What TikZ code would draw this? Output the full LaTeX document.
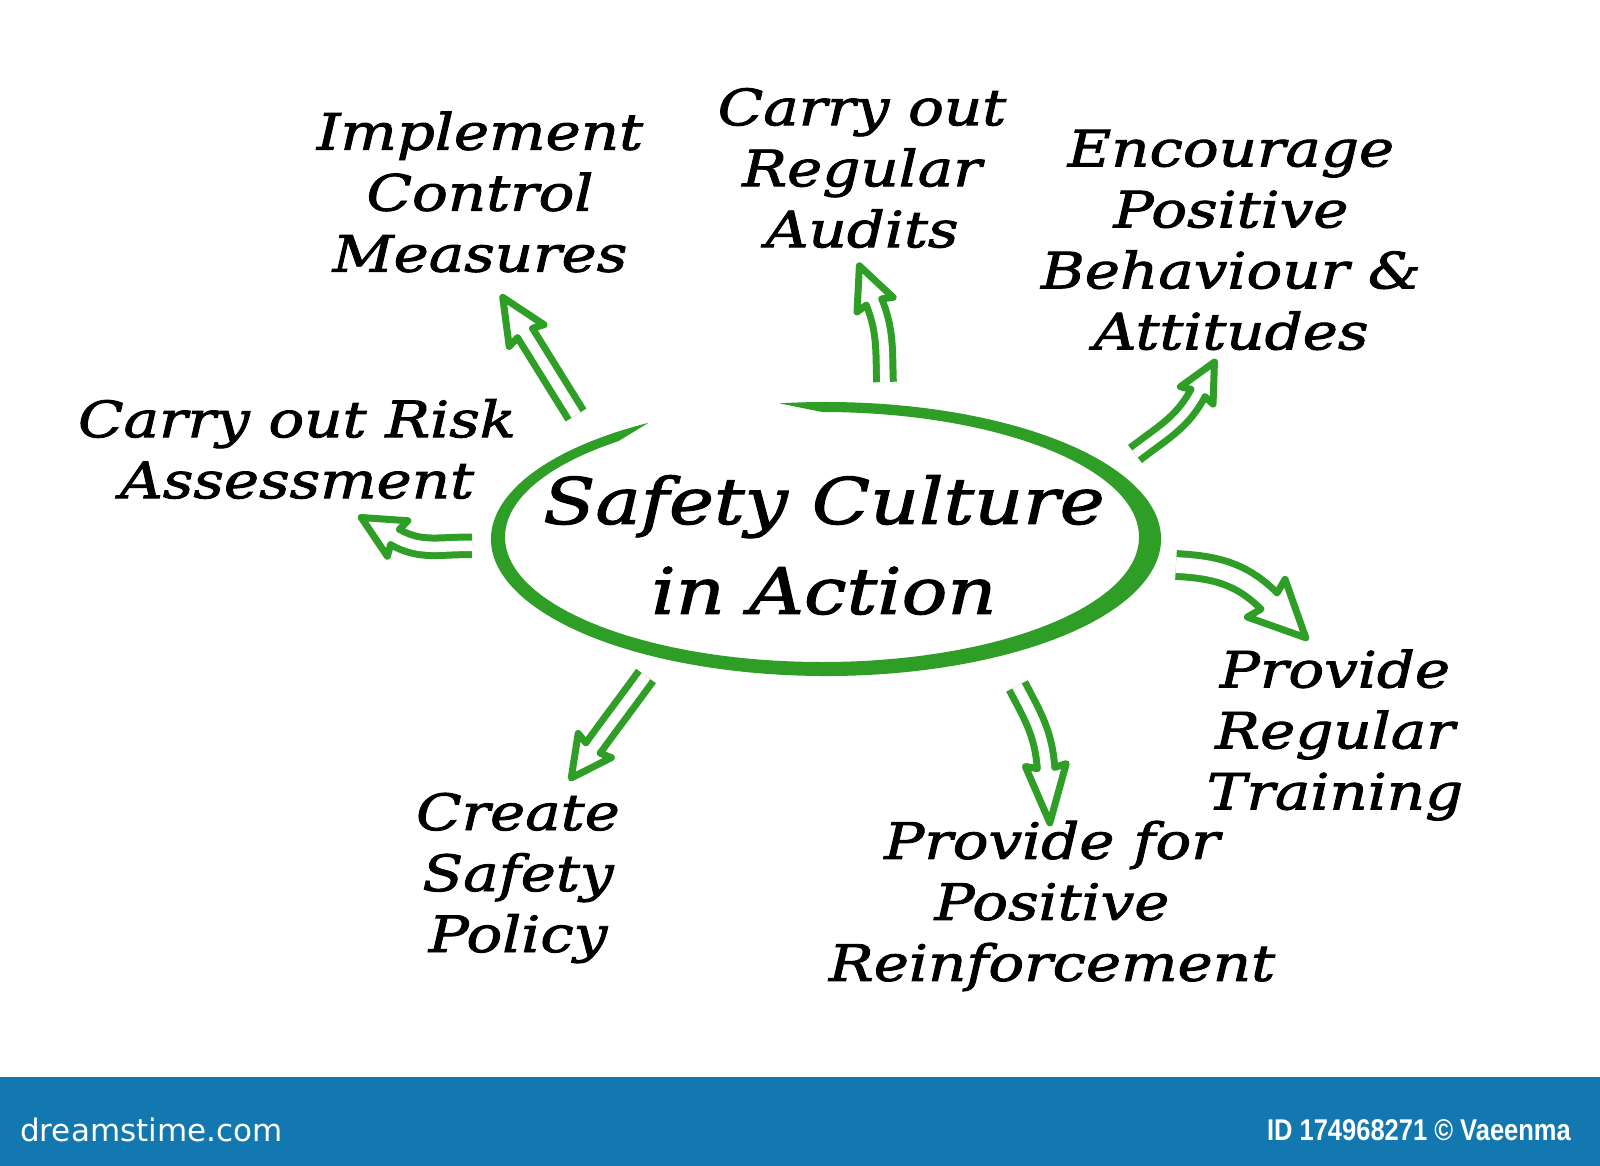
\documentclass[tikz,border=0pt]{standalone}
\usepackage{fontspec}
\newfontfamily\hand[FakeStretch=1.19, FakeBold=1.8]{DejaVu Serif}
\newfontfamily\barfont[FakeStretch=0.85]{Liberation Sans}
\newfontfamily\brandfont{DejaVu Sans}
\usetikzlibrary{calc}
\definecolor{gr}{RGB}{46,158,38}
\definecolor{barblue}{RGB}{19,119,176}
% hollow arrow: #1 tail coord, #2 out angle, #3 end coord, #4 direction at end, #5 scale, #6 tip length
\newcommand\harrow[6]{%
  \pgfmathsetmacro\hin{#4+180}%
  \pgfmathsetmacro\hdd{17.5*#5-7}%
  \draw[gline, double=white, double distance=\hdd pt] (#1) to[out=#2,in=\hin] (#3);
  \begin{scope}[shift={(#3)}, rotate=#4]
    \draw[gline, fill=white, line join=round, line cap=round]
      (0,8.75*#5) -- (-3*#5,20.5*#5) -- (#6,0) -- (-3*#5,-20.5*#5) -- (0,-8.75*#5);
  \end{scope}}
\begin{document}
\begin{tikzpicture}[x=1pt,y=1pt,
  gline/.style={draw=gr,line width=7pt},
  lbl/.style={font=\hand\itshape\fontsize{50}{61}\selectfont, align=center, text=black, inner sep=0pt}]
\useasboundingbox (0,0) rectangle (1600,-1166);
\fill[white] (0,0) rectangle (1600,-1166);

% central ellipse (hand-drawn ring with tapered ends)
\fill[gr] ($(826,-539)+(122:335 and 137)$)
  arc[start angle=122,end angle=458,x radius=335,y radius=137]
  -- ($(822,-537)+(450:317 and 125)$)
  arc[start angle=450,end angle=130,x radius=317,y radius=125] -- cycle;

\node[lbl, font=\hand\itshape\fontsize{64}{90}\selectfont] (center) at (824,-545) {Safety Culture\\in Action};

% labels
\node[lbl] (imp)   at (480,-192) {Implement\\Control\\Measures};
\node[lbl] (aud)   at (862,-168) {Carry out\\Regular\\Audits};
\node[lbl] (enc)   at (1231,-240) {Encourage\\Positive\\Behaviour \&\\Attitudes};
\node[lbl] (risk)  at (297,-449) {Carry out Risk\\Assessment};
\node[lbl] (pol)   at (518,-878) {Create\\Safety\\Policy};
\node[lbl] (rein)  at (1052,-906) {Provide for\\Positive\\Reinforcement};
\node[lbl] (train) at (1335,-735) {Provide\\Regular\\Training};

% arrow coordinates
\coordinate (t1) at (576,-415);  \coordinate (e1) at (525,-333);
\coordinate (t2) at (885,-382);  \coordinate (e2) at (874,-302);
\coordinate (t3) at (1135,-454); \coordinate (e3) at (1198,-393);
\coordinate (t4) at (472,-546);  \coordinate (e4) at (395,-537);
\coordinate (t5) at (1176,-565); \coordinate (e5) at (1269,-601);
\coordinate (t6) at (646,-676);  \coordinate (e6) at (593,-748);
\coordinate (t7) at (1017,-686); \coordinate (e7) at (1046,-768);

\harrow{t1}{122}{e1}{122}{1}{42}
\harrow{t2}{92}{e2}{112}{0.95}{39}
\harrow{t3}{38}{e3}{62}{0.9}{35}
\harrow{t4}{178}{e4}{150}{1}{39}
\harrow{t5}{-3}{e5}{-45}{1.3}{52}
\harrow{t6}{234}{e6}{234}{1}{37}
\harrow{t7}{-62}{e7}{-86}{1}{55}

% bottom bar
\fill[barblue] (0,-1077) rectangle (1600,-1166);
\node[anchor=west, text=white, inner sep=0pt, font=\brandfont\fontsize{31}{31}\selectfont] (brand) at (20,-1130) {dreamstime.com};
\node[anchor=east, text=white, inner sep=0pt, font=\barfont\bfseries\fontsize{30}{30}\selectfont] (id) at (1571,-1130) {ID 174968271 © Vaeenma};
\end{tikzpicture}
\end{document}
